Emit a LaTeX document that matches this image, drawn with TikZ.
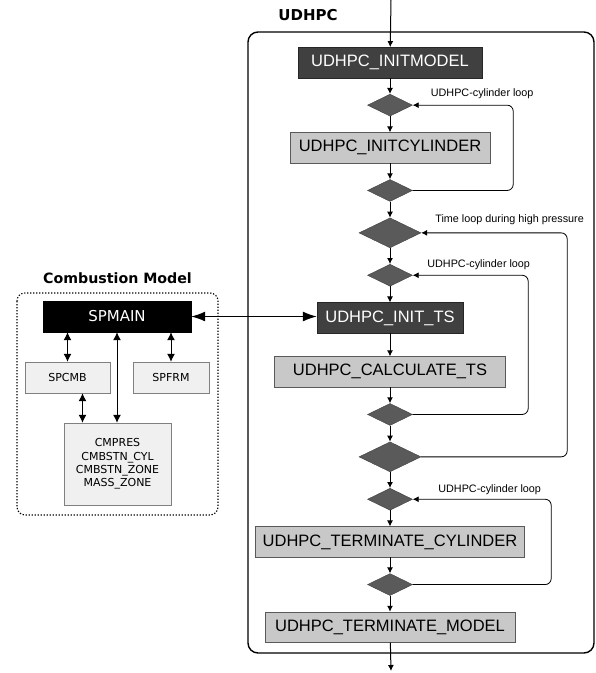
\documentclass[tikz,border=0pt]{standalone}
\usepackage{fontspec}
\setmainfont{Liberation Sans}
\newfontfamily\tahoma{DejaVu Sans}
\usetikzlibrary{shapes.geometric, positioning, arrows.meta}
\definecolor{darkfill}{HTML}{404040}
\definecolor{lightfill}{HTML}{C8C8C8}
\definecolor{diafill}{HTML}{5A5A5A}
\definecolor{subfill}{HTML}{F0F0F0}
\tikzset{>={Latex[length=6pt,width=6pt]}, % small heads on the flow
node distance=16pt, % gap between the steps of the main column
darkstep/.style={draw=black!85, fill=darkfill, text=white, minimum height=30.5pt,
  inner sep=0pt, font=\fontsize{16.5}{18}\selectfont},
lightstep/.style={darkstep, draw=black!65, fill=lightfill, text=black},
decision/.style={diamond, draw=black!75, fill=diafill, inner sep=0pt,
  minimum width=45pt, minimum height=22pt},
bigdecision/.style={decision, minimum width=62pt, minimum height=30pt},
flow/.style={->, line width=1pt},
backloop/.style={->, line width=0.8pt, rounded corners=6pt},
looplabel/.style={anchor=west, inner sep=0pt, font=\fontsize{10.8}{12}\selectfont},
subbox/.style={draw=black!50, fill=subfill, minimum height=31pt, inner sep=0pt,
  font=\tahoma\fontsize{11}{13.3}\selectfont, align=center},
twoway/.style={{Latex[length=8pt,width=8pt]}-{Latex[length=8pt,width=8pt]}, line width=1pt},
bigway/.style={{Latex[length=14pt,width=10pt]}-{Latex[length=14pt,width=10pt]}, line width=1.2pt},
grouptitle/.style={font=\tahoma\bfseries\fontsize{14.2}{16}\selectfont},
}

\begin{document}
\begin{tikzpicture}[x=1pt, y=-1pt]
  \useasboundingbox (0,0) rectangle (596,673);

  % UDHPC frame
  \draw[line width=1.4pt, rounded corners=10pt] (248,32) rectangle (594,653);
  \node[grouptitle, font=\tahoma\bfseries\fontsize{15}{16}\selectfont] (udhpc) at (308,15) {UDHPC};

  \node[darkstep, minimum width=184pt] (initmodel) at (390,62.5) {UDHPC\_INITMODEL};
  \node[decision, below=of initmodel] (d1) {};
  \node[lightstep, minimum width=200pt, below=of d1] (initcyl) {UDHPC\_INITCYLINDER};
  \node[decision, below=of initcyl] (d2) {};
  \node[bigdecision, below=of d2] (t1) {};
  \node[decision, below=of t1] (d3) {};
  \node[darkstep, minimum width=146pt, below=of d3] (initts) {UDHPC\_INIT\_TS};
  \node[lightstep, minimum width=231pt, below=23pt of initts] (calcts) {UDHPC\_CALCULATE\_TS};
  \node[decision, below=of calcts] (d4) {};
  \node[bigdecision, below=of d4] (t2) {};
  \node[decision, below=of t2] (d5) {};
  \node[lightstep, minimum width=269pt, below=of d5] (termcyl) {UDHPC\_TERMINATE\_CYLINDER};
  \node[decision, below=of termcyl] (d6) {};
  \node[lightstep, minimum width=250pt, below=of d6] (termmodel) {UDHPC\_TERMINATE\_MODEL};

  \coordinate (entry) at (391,0);
  \coordinate (exit) at (391,671);

  \draw[flow] (entry) -- (initmodel);
  \draw[flow] (initmodel) -- (d1);
  \draw[flow] (d1) -- (initcyl);
  \draw[flow] (initcyl) -- (d2);
  \draw[flow] (d2) -- (t1);
  \draw[flow] (t1) -- (d3);
  \draw[flow] (d3) -- (initts);
  \draw[flow] (initts) -- (calcts);
  \draw[flow] (calcts) -- (d4);
  \draw[flow] (d4) -- (t2);
  \draw[flow] (t2) -- (d5);
  \draw[flow] (d5) -- (termcyl);
  \draw[flow] (termcyl) -- (d6);
  \draw[flow] (d6) -- (termmodel);
  \draw[flow] (termmodel) -- (exit);

  % loops back up
  \draw[backloop] (d2.east) -- ++(100.5,0) |- (d1.east);
  \draw[backloop] (d4.east) -- ++(115.5,0) |- (d3.east);
  \draw[backloop] (t2.east) -- ++(146,0) |- (t1.east);
  \draw[backloop] (d6.east) -- ++(138.5,0) |- (d5.east);

  \node[looplabel] (l1) at ([shift={(18,-11)}]d1.east) {UDHPC-cylinder loop};
  \node[looplabel] (l2) at ([shift={(14,-13)}]t1.east) {Time loop during high pressure};
  \node[looplabel] (l3) at ([shift={(14.5,-11)}]d3.east) {UDHPC-cylinder loop};
  \node[looplabel] (l4) at ([shift={(25.5,-10)}]d5.east) {UDHPC-cylinder loop};

  % combustion model
  \node[grouptitle] (cmtitle) at (117.5,278) {Combustion Model};
  \draw[dash pattern=on 1.3pt off 1.7pt, line width=1.1pt, rounded corners=8pt] (17,293) rectangle (218,515);

  \node[subbox, draw=black, fill=black, text=white, minimum width=148pt,
    font=\tahoma\fontsize{15}{16}\selectfont] (spmain) at (117,316.5) {SPMAIN};
  \node[subbox, minimum width=85pt] (spcmb) at (67.5,377.5) {SPCMB};
  \node[subbox, minimum width=76pt] (spfrm) at (171,377.5) {SPFRM};
  \node[subbox, minimum width=107pt, minimum height=82pt] (cmbox) at (117.5,464)
    {CMPRES\\CMBSTN\_CYL\\CMBSTN\_ZONE\\MASS\_ZONE};

  \draw[twoway] (spcmb.north) -- (spcmb.north |- spmain.south);
  \draw[twoway] (spfrm.north) -- (spfrm.north |- spmain.south);
  \draw[twoway] (spmain.south) -- (spmain.south |- cmbox.north);
  \draw[twoway] ([xshift=15pt]spcmb.south) -- ([xshift=15pt]spcmb.south |- cmbox.north);
  \draw[bigway] (spmain.east) -- (spmain.east -| initts.west);
\end{tikzpicture}
\end{document}
